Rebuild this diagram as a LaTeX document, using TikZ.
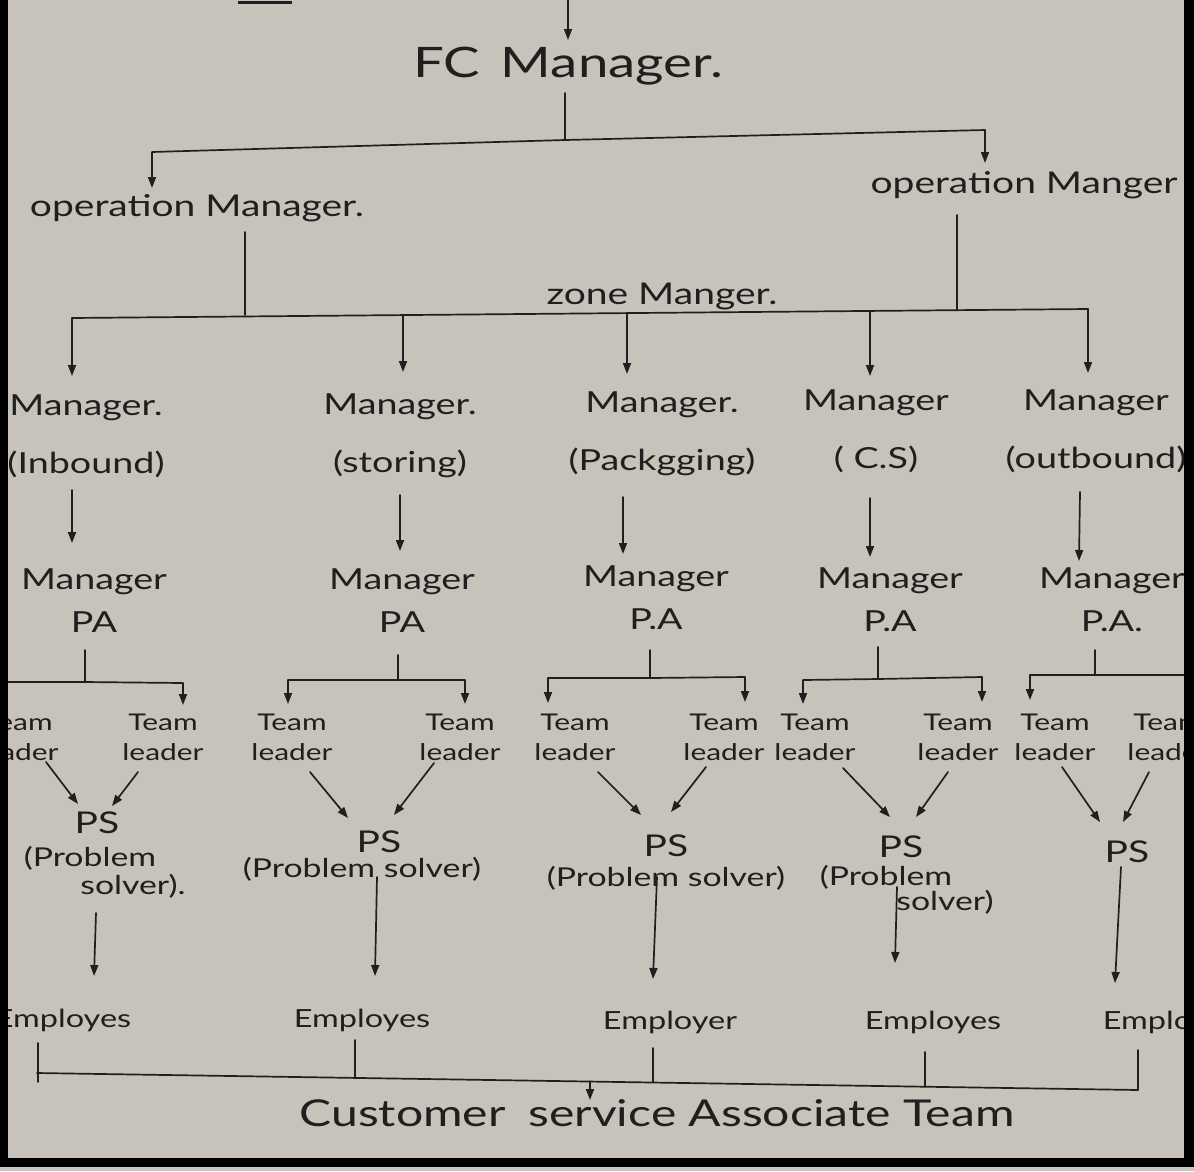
\documentclass[tikz,border=0pt]{standalone}
\usepackage{fontspec}
\newfontfamily\hand[FakeStretch=1.3]{Lato}
\usetikzlibrary{arrows.meta}
\definecolor{paper}{RGB}{200,195,186}
\definecolor{ink}{RGB}{32,30,30}
\tikzset{
  lbl/.style={text=ink, inner sep=0pt, align=center},
  fcfont/.style={lbl, font=\hand\fontsize{42}{50}\selectfont},
  opfont/.style={lbl, font=\hand\fontsize{30}{36}\selectfont},
  mgrfont/.style={lbl, font=\hand\fontsize{29}{58}\selectfont},
  pafont/.style={lbl, font=\hand\fontsize{29}{43}\selectfont},
  tlfont/.style={lbl, font=\hand\fontsize{23}{30}\selectfont},
  psfont/.style={lbl, font=\hand\fontsize{30}{36}\selectfont},
  psdfont/.style={lbl, font=\hand\fontsize{26}{30}\selectfont},
  empfont/.style={lbl, font=\hand\fontsize{25}{30}\selectfont},
  custfont/.style={lbl, font=\hand\fontsize{37}{40}\selectfont},
  ln/.style={draw=ink, line width=1.7pt, line cap=round, line join=round},
  arr/.style={ln, -{Triangle[length=11pt,width=8pt]}},
}
\begin{document}
\begin{tikzpicture}[x=1pt, y=-1pt]
\useasboundingbox (0,0) rectangle (1194,1171);
\fill[paper] (0,0) rectangle (1194,1171);
\begin{scope}
\clip (8,0) rectangle (1184,1158);
% ---------- coordinates ----------
\coordinate (stubL) at (238,2);
\coordinate (stubR) at (292,2);
\coordinate (topIn) at (568,-5);
\coordinate (fcIn) at (568,40);
\coordinate (fcOut) at (565,93);
\coordinate (fcJ) at (565,140);
\coordinate (b1L) at (152,152);
\coordinate (b1R) at (985,130);
\coordinate (op1In) at (152,188);
\coordinate (op2In) at (985,163);
\coordinate (op1Out) at (245,232);
\coordinate (op1J) at (245,315);
\coordinate (op2Out) at (957,215);
\coordinate (op2J) at (957,310);
\coordinate (zL) at (72,318);
\coordinate (zR) at (1088,309);
\coordinate (z2) at (403,315);
\coordinate (z3) at (627,313);
\coordinate (z4) at (870,311);
\coordinate (m1In) at (72,376);
\coordinate (m2In) at (403,372);
\coordinate (m3In) at (627,374);
\coordinate (m4In) at (870,376);
\coordinate (m5In) at (1088,373);
% ---------- top ----------
\draw[ink, line width=3pt] (stubL) -- (stubR);
\draw[arr] (topIn) -- (fcIn);
\node[fcfont] (fc) at (568,66) {FC\, Manager.};
\draw[ln] (fcOut) -- (fcJ);
\draw[arr] (fcJ) -- (b1L) -- (op1In);
\draw[arr] (fcJ) -- (b1R) -- (op2In);
\node[opfont] (op1) at (197,208) {operation Manager.};
\node[opfont] (op2) at (1024,185) {operation Manger};
\draw[ln] (op1Out) -- (op1J);
\draw[ln] (op2Out) -- (op2J);
\draw[ln] (zL) -- (zR);
\node[opfont] (zone) at (662,296) {zone Manger.};
\draw[arr] (zL) -- (m1In);
\draw[arr] (z2) -- (m2In);
\draw[arr] (z3) -- (m3In);
\draw[arr] (z4) -- (m4In);
\draw[arr] (zR) -- (m5In);
% ---------- managers ----------
\node[mgrfont] (m1) at (86,436) {Manager.\\(Inbound)};
\node[mgrfont] (m2) at (400,436) {Manager.\\(storing)};
\node[mgrfont] (m3) at (662,434) {Manager.\\(Packgging)};
\node[mgrfont] (m4) at (876,431) {Manager\\( C.S)};
\node[mgrfont] (m5) at (1096,431) {Manager\\(outbound)};
\coordinate (m1Out) at (72,490);  \coordinate (pa1In) at (72,543);
\coordinate (m2Out) at (400,495); \coordinate (pa2In) at (400,551);
\coordinate (m3Out) at (623,497); \coordinate (pa3In) at (623,554);
\coordinate (m4Out) at (870,498); \coordinate (pa4In) at (870,557);
\coordinate (m5Out) at (1080,492);\coordinate (pa5In) at (1079,561);
\draw[arr] (m1Out) -- (pa1In);
\draw[arr] (m2Out) -- (pa2In);
\draw[arr] (m3Out) -- (pa3In);
\draw[arr] (m4Out) -- (pa4In);
\draw[arr] (m5Out) -- (pa5In);
\node[pafont] (pa1) at (94,601) {Manager\\PA};
\node[pafont] (pa2) at (402,601) {Manager\\PA};
\node[pafont] (pa3) at (656,598) {Manager\\P.A};
\node[pafont] (pa4) at (890,600) {Manager\\P.A};
\node[pafont] (pa5) at (1112,600) {Manager\\P.A.};
% ---------- team leader bars ----------
\coordinate (pa1Out) at (85,650);  \coordinate (pa1J) at (85,682);
\coordinate (pa2Out) at (398,655); \coordinate (pa2J) at (398,680);
\coordinate (pa3Out) at (650,650); \coordinate (pa3J) at (650,678);
\coordinate (pa4Out) at (878,647); \coordinate (pa4J) at (878,679);
\coordinate (pa5Out) at (1095,650);\coordinate (pa5J) at (1095,675);
\coordinate (t1aB) at (-15,682); \coordinate (t1bB) at (183,683);
\coordinate (t2aB) at (288,680); \coordinate (t2bB) at (465,680);
\coordinate (t3aB) at (548,678); \coordinate (t3bB) at (745,677);
\coordinate (t4aB) at (803,680); \coordinate (t4bB) at (982,677);
\coordinate (t5aB) at (1030,675);\coordinate (t5bB) at (1200,675);
\coordinate (t1aIn) at (-15,704); \coordinate (t1bIn) at (183,705);
\coordinate (t2aIn) at (288,704); \coordinate (t2bIn) at (465,704);
\coordinate (t3aIn) at (548,703); \coordinate (t3bIn) at (745,702);
\coordinate (t4aIn) at (803,704); \coordinate (t4bIn) at (982,702);
\coordinate (t5aIn) at (1030,700);\coordinate (t5bIn) at (1200,700);
\draw[ln] (pa1Out) -- (pa1J);
\draw[ln] (pa2Out) -- (pa2J);
\draw[ln] (pa3Out) -- (pa3J);
\draw[ln] (pa4Out) -- (pa4J);
\draw[ln] (pa5Out) -- (pa5J);
\draw[arr] (pa1J) -- (t1aB) -- (t1aIn);
\draw[arr] (pa1J) -- (t1bB) -- (t1bIn);
\draw[arr] (pa2J) -- (t2aB) -- (t2aIn);
\draw[arr] (pa2J) -- (t2bB) -- (t2bIn);
\draw[arr] (pa3J) -- (t3aB) -- (t3aIn);
\draw[arr] (pa3J) -- (t3bB) -- (t3bIn);
\draw[arr] (pa4J) -- (t4aB) -- (t4aIn);
\draw[arr] (pa4J) -- (t4bB) -- (t4bIn);
\draw[arr] (pa5J) -- (t5aB) -- (t5aIn);
\draw[arr] (pa5J) -- (t5bB) -- (t5bIn);
\node[tlfont] (t1a) at (18,737) {Team\\leader};
\node[tlfont] (t1b) at (163,737) {Team\\leader};
\node[tlfont] (t2a) at (292,737) {Team\\leader};
\node[tlfont] (t2b) at (460,737) {Team\\leader};
\node[tlfont] (t3a) at (575,737) {Team\\leader};
\node[tlfont] (t3b) at (724,737) {Team\\leader};
\node[tlfont] (t4a) at (815,737) {Team\\leader};
\node[tlfont] (t4b) at (958,737) {Team\\leader};
\node[tlfont] (t5a) at (1055,737) {Team\\leader};
\node[tlfont] (t5b) at (1168,737) {Team\\leader};
% ---------- problem solvers ----------
\coordinate (t1aOut) at (46,762);  \coordinate (ps1L) at (78,804);
\coordinate (t1bOut) at (138,772); \coordinate (ps1R) at (112,806);
\coordinate (t2aOut) at (310,772); \coordinate (ps2L) at (348,818);
\coordinate (t2bOut) at (434,763); \coordinate (ps2R) at (394,815);
\coordinate (t3aOut) at (598,772); \coordinate (ps3L) at (641,815);
\coordinate (t3bOut) at (706,767); \coordinate (ps3R) at (671,812);
\coordinate (t4aOut) at (843,768); \coordinate (ps4L) at (890,817);
\coordinate (t4bOut) at (948,772); \coordinate (ps4R) at (916,817);
\coordinate (t5aOut) at (1062,767);\coordinate (ps5L) at (1100,822);
\coordinate (t5bOut) at (1149,772);\coordinate (ps5R) at (1123,822);
\draw[arr] (t1aOut) -- (ps1L);
\draw[arr] (t1bOut) -- (ps1R);
\draw[arr] (t2aOut) -- (ps2L);
\draw[arr] (t2bOut) -- (ps2R);
\draw[arr] (t3aOut) -- (ps3L);
\draw[arr] (t3bOut) -- (ps3R);
\draw[arr] (t4aOut) -- (ps4L);
\draw[arr] (t4bOut) -- (ps4R);
\draw[arr] (t5aOut) -- (ps5L);
\draw[arr] (t5bOut) -- (ps5R);
\node[psfont] (ps1) at (97,823) {PS};
\node[psdfont] (ps1d) at (90,858) {(Problem};
\node[psdfont] (ps1e) at (133,886) {solver).};
\node[psfont] (ps2) at (379,842) {PS};
\node[psdfont] (ps2d) at (362,869) {(Problem solver)};
\node[psfont] (ps3) at (666,846) {PS};
\node[psdfont] (ps3d) at (666,878) {(Problem solver)};
\node[psfont] (ps4) at (901,847) {PS};
\node[psdfont] (ps4d) at (886,877) {(Problem};
\node[psdfont] (ps4e) at (945,902) {solver)};
\node[psfont] (ps5) at (1127,852) {PS};
% ---------- employees ----------
\coordinate (ps1Out) at (96,913);  \coordinate (e1In) at (94,976);
\coordinate (ps2Out) at (377,877); \coordinate (e2In) at (375,976);
\coordinate (ps3Out) at (657,877); \coordinate (e3In) at (653,979);
\coordinate (ps4Out) at (897,887); \coordinate (e4In) at (895,963);
\coordinate (ps5Out) at (1121,867);\coordinate (e5In) at (1115,983);
\draw[arr] (ps1Out) -- (e1In);
\draw[arr] (ps2Out) -- (e2In);
\draw[arr] (ps3Out) -- (e3In);
\draw[arr] (ps4Out) -- (e4In);
\draw[arr] (ps5Out) -- (e5In);
\node[empfont] (e1) at (63,1020) {Employes};
\node[empfont] (e2) at (362,1020) {Employes};
\node[empfont] (e3) at (670,1022) {Employer};
\node[empfont] (e4) at (933,1022) {Employes};
\node[empfont] (e5) at (1171,1022) {Employes};
% ---------- bottom bar ----------
\coordinate (e1Out) at (38,1043); \coordinate (e1J) at (38,1082);
\coordinate (e2Out) at (355,1040); \coordinate (e2J) at (355,1078);
\coordinate (e3Out) at (653,1048); \coordinate (e3J) at (653,1082.5);
\coordinate (e4Out) at (925,1052); \coordinate (e4J) at (925,1086.7);
\coordinate (e5Out) at (1138,1050); \coordinate (e5J) at (1138,1090);
\coordinate (bL) at (37,1073);
\coordinate (bJ) at (590,1081.5);
\coordinate (custIn) at (590,1100);
\draw[ln] (e1Out) -- (e1J);
\draw[ln] (e2Out) -- (e2J);
\draw[ln] (e3Out) -- (e3J);
\draw[ln] (e4Out) -- (e4J);
\draw[ln] (e5Out) -- (e5J);
\draw[ln] (bL) -- (e5J);
\draw[arr] (bJ) -- (custIn);
\node[custfont] (cust) at (657,1113) {Customer\; service Associate Team};
\end{scope}
% ---------- photo frame ----------
\fill[black] (0,0) rectangle (8,1167);
\fill[black] (1184,0) rectangle (1194,1167);
\fill[black] (0,1158) rectangle (1194,1167);
\fill[black!22] (0,1167) rectangle (1194,1171);
\end{tikzpicture}
\end{document}
